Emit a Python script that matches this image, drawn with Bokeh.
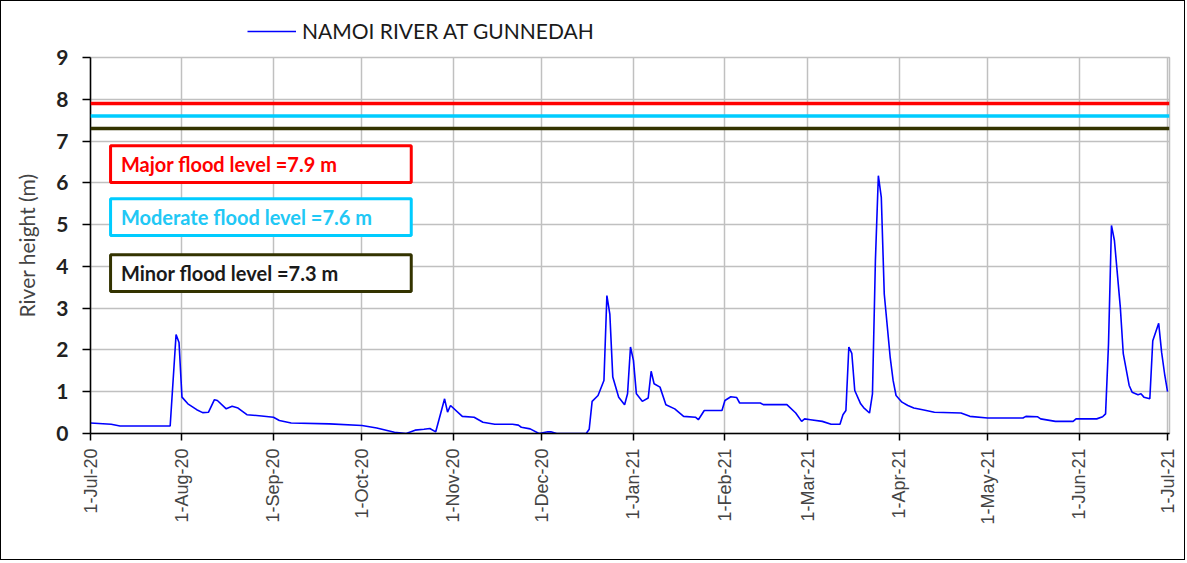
import math
import pandas as pd
from bokeh.plotting import figure
from bokeh.layouts import column
from bokeh.models import (Span, Label, BoxAnnotation, MonthsTicker, DatetimeTickFormatter,
                          SingleIntervalTicker, Range1d)
from bokeh.embed import file_html
from bokeh.resources import INLINE

# ---------------- data ----------------
series_name = "NAMOI RIVER AT GUNNEDAH"
dates = [
    "2020-07-01", "2020-07-08", "2020-07-11", "2020-07-28", "2020-07-30", "2020-07-31",
    "2020-08-01", "2020-08-03", "2020-08-06", "2020-08-08", "2020-08-10", "2020-08-12",
    "2020-08-13", "2020-08-16", "2020-08-18", "2020-08-20", "2020-08-23", "2020-08-28",
    "2020-09-01", "2020-09-03", "2020-09-07", "2020-09-20", "2020-10-01", "2020-10-06",
    "2020-10-12", "2020-10-16", "2020-10-19", "2020-10-22", "2020-10-24", "2020-10-26",
    "2020-10-29", "2020-10-30", "2020-10-31", "2020-11-04", "2020-11-08", "2020-11-11",
    "2020-11-15", "2020-11-21", "2020-11-23", "2020-11-24", "2020-11-27", "2020-11-30",
    "2020-12-03", "2020-12-04", "2020-12-06", "2020-12-16", "2020-12-17", "2020-12-18",
    "2020-12-20", "2020-12-22", "2020-12-23", "2020-12-24", "2020-12-25", "2020-12-27",
    "2020-12-29", "2020-12-30", "2020-12-31", "2021-01-01", "2021-01-02", "2021-01-04",
    "2021-01-06", "2021-01-07", "2021-01-08", "2021-01-10", "2021-01-12", "2021-01-15",
    "2021-01-18", "2021-01-22", "2021-01-23", "2021-01-25", "2021-01-31", "2021-02-01",
    "2021-02-03", "2021-02-05", "2021-02-06", "2021-02-13", "2021-02-14", "2021-02-22",
    "2021-02-25", "2021-02-27", "2021-02-28", "2021-03-02", "2021-03-06", "2021-03-09",
    "2021-03-12", "2021-03-13", "2021-03-14", "2021-03-15", "2021-03-16", "2021-03-17",
    "2021-03-19", "2021-03-20", "2021-03-22", "2021-03-23", "2021-03-24", "2021-03-25",
    "2021-03-26", "2021-03-27", "2021-03-29", "2021-03-30", "2021-03-31", "2021-04-02",
    "2021-04-04", "2021-04-06", "2021-04-09", "2021-04-13", "2021-04-22", "2021-04-25",
    "2021-05-01", "2021-05-13", "2021-05-14", "2021-05-18", "2021-05-19", "2021-05-24",
    "2021-05-30", "2021-05-31", "2021-06-07", "2021-06-09", "2021-06-10", "2021-06-11",
    "2021-06-12", "2021-06-13", "2021-06-15", "2021-06-16", "2021-06-18", "2021-06-19",
    "2021-06-21", "2021-06-22", "2021-06-23", "2021-06-25", "2021-06-26", "2021-06-28",
    "2021-06-29", "2021-06-30", "2021-07-01",
]
heights = [
    0.25, 0.22, 0.18, 0.18, 2.37, 2.18,
    0.87, 0.71, 0.57, 0.50, 0.51, 0.81,
    0.79, 0.59, 0.65, 0.61, 0.45, 0.42,
    0.39, 0.31, 0.25, 0.23, 0.19, 0.13,
    0.03, 0.00, 0.08, 0.10, 0.12, 0.04,
    0.83, 0.51, 0.67, 0.41, 0.39, 0.27,
    0.22, 0.22, 0.20, 0.15, 0.11, 0.00,
    0.04, 0.04, 0.00, 0.00, 0.10, 0.77,
    0.91, 1.27, 3.30, 2.86, 1.35, 0.87,
    0.69, 0.95, 2.07, 1.75, 0.95, 0.77,
    0.85, 1.49, 1.19, 1.11, 0.69, 0.59,
    0.41, 0.39, 0.33, 0.55, 0.55, 0.79,
    0.88, 0.86, 0.73, 0.73, 0.69, 0.69,
    0.49, 0.29, 0.35, 0.33, 0.29, 0.22,
    0.22, 0.45, 0.55, 2.07, 1.92, 1.03,
    0.71, 0.62, 0.49, 0.95, 4.14, 6.17,
    5.65, 3.34, 1.83, 1.27, 0.91, 0.75,
    0.67, 0.61, 0.57, 0.51, 0.49, 0.41,
    0.37, 0.37, 0.41, 0.40, 0.35, 0.29,
    0.29, 0.35, 0.35, 0.40, 0.47, 2.15,
    4.98, 4.62, 3.02, 1.91, 1.15, 0.99,
    0.93, 0.95, 0.87, 0.83, 2.22, 2.64,
    1.94, 1.43, 1.00,
]
flood_names = ["Major", "Moderate", "Minor"]
flood_levels = [7.9, 7.6, 7.3]
flood_colors = ["#ff0000", "#00ccff", "#333300"]
flood_text_colors = ["#ff0000", "#22c8f5", "#1a1a1a"]

# ---------------- figures ----------------
x = pd.to_datetime(dates)
x_start = pd.Timestamp("2020-07-01")
x_end = pd.Timestamp("2021-07-01") + pd.Timedelta(hours=16)
LINE_COLOR = "#0000ff"

# legend strip (above the chart frame); the series is drawn here outside the
# visible y-range only so that the legend shows its line sample
top = figure(width=1183, height=44, x_axis_type="datetime",
             x_range=Range1d(x_start, x_end), y_range=Range1d(100, 101),
             output_backend="svg", toolbar_location=None,
             x_axis_location=None, y_axis_location=None,
             min_border_left=0, min_border_right=0, min_border_top=0, min_border_bottom=0)
top.grid.visible = False
top.outline_line_color = None
top.background_fill_color = "white"
top.border_fill_color = "white"
top.line(x, heights, line_color=LINE_COLOR, line_width=1.5, legend_label=series_name)
lg = top.legend[0]
lg.location = (157, 2)
lg.border_line_color = None
lg.background_fill_alpha = 0
lg.padding = 0
lg.margin = 0
lg.glyph_width = 49
lg.label_standoff = 6
lg.label_text_font = "Lato"
lg.label_text_font_size = "21px"
lg.label_text_color = "#1a1a1a"

# main chart
p = figure(width=1183, height=514, x_axis_type="datetime",
           x_range=Range1d(x_start, x_end), y_range=Range1d(0, 9),
           output_backend="svg", toolbar_location=None,
           min_border_left=89, min_border_right=15, min_border_top=12, min_border_bottom=126)
p.background_fill_color = "white"
p.border_fill_color = "white"
p.outline_line_color = "#c0c0c0"
p.outline_line_width = 1.5

p.xgrid.grid_line_color = "#c0c0c0"
p.xgrid.grid_line_width = 1.5
p.ygrid.grid_line_color = "#c0c0c0"
p.ygrid.grid_line_width = 1.5

p.xaxis.ticker = MonthsTicker(months=list(range(12)))
fmt = "1-%b-%y"
p.xaxis.formatter = DatetimeTickFormatter(days=fmt, months=fmt, years=fmt, hours=fmt)
p.xaxis.major_label_orientation = math.pi / 2
p.xaxis.major_label_text_font = "Liberation Sans"
p.xaxis.major_label_text_font_size = "18px"
p.xaxis.major_label_standoff = 8
p.xaxis.minor_tick_line_color = None
p.xaxis.major_tick_out = 7
p.xaxis.major_tick_in = 0
p.xaxis.axis_line_width = 1.5
p.xaxis.major_tick_line_width = 1.5

p.yaxis.ticker = SingleIntervalTicker(interval=1)
p.yaxis.major_label_text_font = "Lato"
p.yaxis.major_label_text_font_style = "bold"
p.yaxis.major_label_text_font_size = "21px"
p.yaxis.major_label_text_color = "#222222"
p.yaxis.major_label_standoff = 14
p.yaxis.minor_tick_line_color = None
p.yaxis.major_tick_out = 8
p.yaxis.major_tick_in = 0
p.yaxis.axis_line_width = 1.5
p.yaxis.major_tick_line_width = 1.5
p.yaxis.axis_label = "River height (m)"
p.yaxis.axis_label_text_font = "Lato"
p.yaxis.axis_label_text_font_style = "normal"
p.yaxis.axis_label_text_font_size = "21px"
p.yaxis.axis_label_standoff = 14

for lvl, col in zip(flood_levels, flood_colors):
    p.add_layout(Span(location=lvl, dimension="width", line_color=col, line_width=3.5))

p.line(x, heights, line_color=LINE_COLOR, line_width=1.6)

day_ms = 86400000.0
x0_ms = x_start.value / 1e6
box_tops = [6.89, 5.62, 4.28]
box_h = 0.88
for name, lvl, col, tcol, tp in zip(flood_names, flood_levels, flood_colors, flood_text_colors, box_tops):
    p.add_layout(BoxAnnotation(left=x0_ms + 6.8 * day_ms, right=x0_ms + 108.7 * day_ms,
                               bottom=tp - box_h, top=tp,
                               fill_color="white", fill_alpha=1.0,
                               line_color=col, line_width=3, line_alpha=1.0, level="overlay"))
    p.add_layout(Label(x=x0_ms + 10.3 * day_ms, y=tp - box_h / 2,
                       text=f"{name} flood level ={lvl} m",
                       text_font="Lato", text_font_style="bold", text_font_size="20px",
                       text_color=tcol, text_baseline="middle", text_align="left",
                       level="overlay"))

layout = column(top, p, spacing=0, styles={"border": "1.5px solid #000000"})

open("out.html", "w").write(file_html(layout, INLINE))
